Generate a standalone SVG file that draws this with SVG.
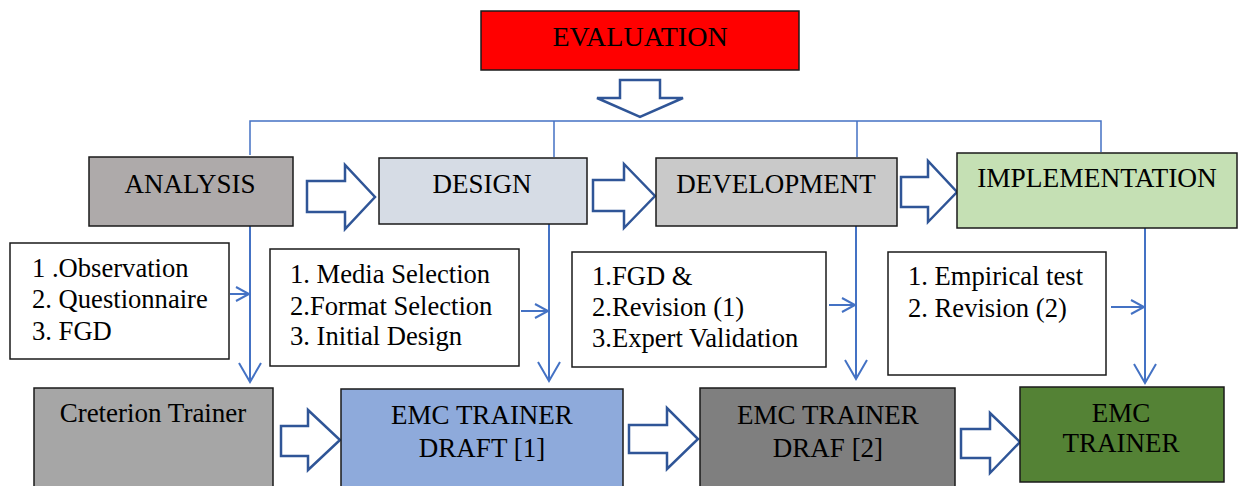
<svg xmlns="http://www.w3.org/2000/svg" width="1240" height="486" viewBox="0 0 1240 486">
<defs>
<style>
.box{stroke:#1a1a1a;stroke-width:1.5}
.t{font-family:"Liberation Serif","Times New Roman",serif;font-size:27px;fill:#000}
.l{font-family:"Liberation Serif","Times New Roman",serif;font-size:26.6px;fill:#000}
.conn{fill:none;stroke:#4472C4;stroke-width:1.5}
.varr{fill:none;stroke:#4472C4;stroke-width:2}
.blk{fill:#fff;stroke:#2F5597;stroke-width:2.5;stroke-linejoin:miter}
</style>
<marker id="big" markerUnits="userSpaceOnUse" markerWidth="24" markerHeight="26" viewBox="0 0 24 26" refX="21" refY="13" orient="auto">
<path d="M2,2 L21,13 L2,24" fill="none" stroke="#4472C4" stroke-width="2"/>
</marker>
<marker id="small" markerUnits="userSpaceOnUse" markerWidth="18" markerHeight="18" viewBox="0 0 18 18" refX="15" refY="9" orient="auto">
<path d="M2,2 L15,9 L2,16" fill="none" stroke="#4472C4" stroke-width="2"/>
</marker>
</defs>

<g id="connectors">
<path class="conn" d="M250,155 V121 H1101 V152 M554,121 V157 M857,121 V157"/>
<path class="blk" d="M620,80 H660 V98 H683 L640,117 L597,98 H620 Z"/>
<path class="blk" d="M307,181 H345 V165 L375,197 L345,229 V212 H307 Z"/>
<path class="blk" d="M593,180 H624 V164 L655,196 L624,228 V211 H593 Z"/>
<path class="blk" d="M901,177 H928 V161 L957,192 L928,222 V207 H901 Z"/>
<path class="blk" d="M281,426 H308 V410 L340,440 L308,470 V456 H281 Z"/>
<path class="blk" d="M629,425 H667 V408 L698,439 L667,469 V453 H629 Z"/>
<path class="blk" d="M961,429 H990 V413 L1020,442 L990,473 V458 H961 Z"/>
<line class="varr" x1="250" y1="226" x2="250" y2="382" marker-end="url(#big)"/>
<line class="varr" x1="549" y1="224" x2="549" y2="381" marker-end="url(#big)"/>
<line class="varr" x1="856" y1="226" x2="856" y2="379" marker-end="url(#big)"/>
<line class="varr" x1="1145" y1="228" x2="1145" y2="383" marker-end="url(#big)"/>
<line class="varr" x1="230" y1="294" x2="249" y2="294" marker-end="url(#small)"/>
<line class="varr" x1="521" y1="311" x2="548" y2="311" marker-end="url(#small)"/>
<line class="varr" x1="829" y1="305" x2="855" y2="305" marker-end="url(#small)"/>
<line class="varr" x1="1111" y1="307" x2="1144" y2="307" marker-end="url(#small)"/>
</g>

<g id="evaluation">
<rect class="box" x="481" y="11" width="318" height="59" fill="#FF0000"/>
<text class="t" x="640" y="46" text-anchor="middle" style="font-size:28px">EVALUATION</text>
</g>
<g id="analysis">
<rect class="box" x="89" y="157" width="204" height="69" fill="#AEAAAA"/>
<text class="t" x="190" y="193" text-anchor="middle">ANALYSIS</text>
</g>
<g id="design">
<rect class="box" x="379" y="158" width="208" height="66" fill="#D6DCE5"/>
<text class="t" x="482" y="193" text-anchor="middle">DESIGN</text>
</g>
<g id="development">
<rect class="box" x="656" y="158" width="241" height="68" fill="#C9C9C9"/>
<text class="t" x="776" y="193" text-anchor="middle">DEVELOPMENT</text>
</g>
<g id="implementation">
<rect class="box" x="957" y="153" width="280" height="75" fill="#C5E0B4"/>
<text class="t" x="1097" y="187" text-anchor="middle" style="font-size:27.4px">IMPLEMENTATION</text>
</g>

<g id="analysis-list">
<rect class="box" x="10" y="243" width="219" height="116" fill="#fff"/>
<text class="l" x="32" y="277">1 .Observation</text>
<text class="l" x="32" y="308">2. Questionnaire</text>
<text class="l" x="32" y="340">3. FGD</text>
</g>
<g id="design-list">
<rect class="box" x="270" y="249" width="249" height="117" fill="#fff"/>
<text class="l" x="290" y="283">1. Media Selection</text>
<text class="l" x="290" y="315">2.Format Selection</text>
<text class="l" x="290" y="345">3. Initial Design</text>
</g>
<g id="development-list">
<rect class="box" x="572" y="252" width="254" height="115" fill="#fff"/>
<text class="l" x="592" y="285">1.FGD &amp;</text>
<text class="l" x="592" y="316">2.Revision (1)</text>
<text class="l" x="592" y="347">3.Expert Validation</text>
</g>
<g id="implementation-list">
<rect class="box" x="888" y="252" width="218" height="123" fill="#fff"/>
<text class="l" x="908" y="285">1. Empirical test</text>
<text class="l" x="908" y="317">2. Revision (2)</text>
</g>

<g id="creterion">
<rect class="box" x="34" y="388" width="239" height="110" fill="#A6A6A6"/>
<text class="t" x="153" y="422" text-anchor="middle">Creterion Trainer</text>
</g>
<g id="draft1">
<rect class="box" x="341" y="389" width="282" height="110" fill="#8EAADB"/>
<text class="t" x="482" y="424" text-anchor="middle">EMC TRAINER</text>
<text class="t" x="482" y="457" text-anchor="middle">DRAFT [1]</text>
</g>
<g id="draft2">
<rect class="box" x="700" y="388" width="255" height="110" fill="#7F7F7F"/>
<text class="t" x="828" y="424" text-anchor="middle">EMC TRAINER</text>
<text class="t" x="828" y="457" text-anchor="middle">DRAF [2]</text>
</g>
<g id="emc-trainer">
<rect class="box" x="1020" y="387" width="204" height="95" fill="#548235"/>
<text class="t" x="1121" y="422" text-anchor="middle">EMC</text>
<text class="t" x="1121" y="452" text-anchor="middle">TRAINER</text>
</g>
</svg>
